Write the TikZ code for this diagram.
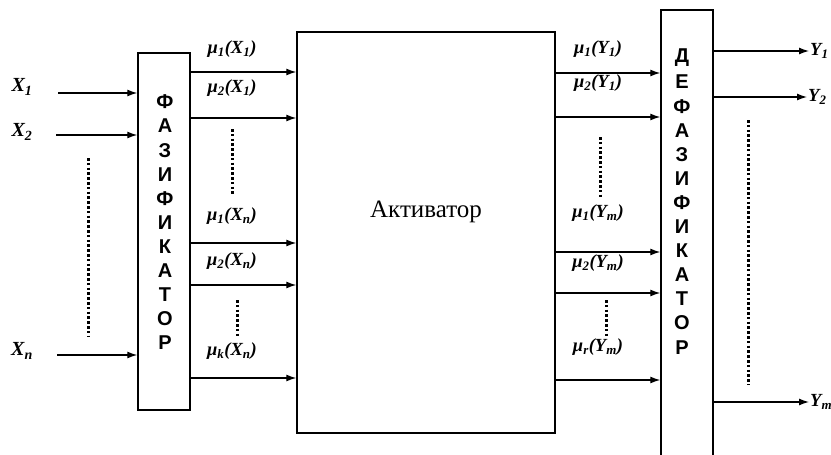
\documentclass[tikz,border=0pt]{standalone}
\usepackage{fontspec}
\setmainfont{Liberation Serif}
\newfontfamily\boxfont{Liberation Sans}
\usetikzlibrary{arrows.meta}

\tikzset{
  block/.style={draw, line width=1.4pt, inner sep=0pt},
  sig/.style={->, line width=1.3pt},
  dots/.style={line width=3pt, dash pattern=on 2.6pt off 2.2pt},
  lab/.style={font=\fontsize{18.5}{20}\selectfont\bfseries\itshape, inner sep=1pt},
  letter/.style={font=\fontsize{20}{22}\selectfont\boxfont\bfseries, inner sep=0pt}
}
\newcommand{\mf}[3]{μ\textsubscript{#1}(#2\textsubscript{#3})}

\begin{document}
\begin{tikzpicture}[x=1pt, y=-1pt, >={Latex[length=10pt,width=7pt]}]
\useasboundingbox (0,0) rectangle (831,455);

% Blocks
\node[block, minimum width=52pt, minimum height=357pt] (fuz) at (164,231.5) {};
\node[block, minimum width=258pt, minimum height=401pt] (act) at (426,232.5) {};
\node[block, minimum width=52pt, minimum height=450pt] (defuz) at (687,235) {};
\node[font=\fontsize{25}{28}\selectfont] (actname) at (426,212) {Активатор};

% Letters in the blocks
\foreach \ch [count=\i from 0] in {Ф,А,З,И,Ф,И,К,А,Т,О,Р}
  \node[letter] (f\i) at (165,{102+24.1*\i}) {\ch};
\foreach \ch [count=\i from 0] in {Д,Е,Ф,А,З,И,Ф,И,К,А,Т,О,Р}
  \node[letter] (d\i) at (682,{58+24.1*\i}) {\ch};

% Inputs
\node[lab, font=\fontsize{20}{22}\selectfont\bfseries\itshape] (x1) at (22,87) {X\textsubscript{1}};
\node[lab, font=\fontsize{20}{22}\selectfont\bfseries\itshape] (x2) at (22,132) {X\textsubscript{2}};
\node[lab, font=\fontsize{20}{22}\selectfont\bfseries\itshape] (xn) at (22,351) {X\textsubscript{n}};
\coordinate (in1) at (58,93);
\coordinate (in2) at (56,135);
\coordinate (inn) at (57,355);
\draw[sig] (in1) -- (fuz.west |- in1);
\draw[sig] (in2) -- (fuz.west |- in2);
\draw[sig] (inn) -- (fuz.west |- inn);
\draw[dots] (88,158) -- (88,336);

% Fuzzifier to activator
\foreach \y in {72,118,243,285,378}
  \draw[sig] (fuz.east |- 0,\y) -- (act.west |- 0,\y);
\node[lab] (m11) at (232,49) {\mf{1}{X}{1}};
\node[lab] (m21) at (232,88) {\mf{2}{X}{1}};
\node[lab] (m1n) at (232,216) {\mf{1}{X}{n}};
\node[lab] (m2n) at (232,261) {\mf{2}{X}{n}};
\node[lab] (mkn) at (232,351) {\mf{k}{X}{n}};
\draw[dots] (232,129) -- (232,195);
\draw[dots] (237,300) -- (237,338);

% Activator to defuzzifier
\foreach \y in {73,117,252,293,380}
  \draw[sig] (act.east |- 0,\y) -- (defuz.west |- 0,\y);
\node[lab] (n11) at (598,49) {\mf{1}{Y}{1}};
\node[lab] (n21) at (598,83) {\mf{2}{Y}{1}};
\node[lab] (n1m) at (598,213) {\mf{1}{Y}{m}};
\node[lab] (n2m) at (598,263) {\mf{2}{Y}{m}};
\node[lab] (nrm) at (598,347) {\mf{r}{Y}{m}};
\draw[dots] (600,137) -- (600,198);
\draw[dots] (606,300) -- (606,338);

% Outputs
\node[lab, anchor=west] (y1) at (809,51) {Y\textsubscript{1}};
\node[lab, anchor=west] (y2) at (807,97) {Y\textsubscript{2}};
\node[lab, anchor=west] (ym) at (809,402) {Y\textsubscript{m}};
\draw[sig] (defuz.east |- y1) -- (y1.west);
\draw[sig] (defuz.east |- y2) -- (y2.west);
\draw[sig] (defuz.east |- ym) -- (ym.west);
\draw[dots] (748,120) -- (748,385);

\end{tikzpicture}
\end{document}
